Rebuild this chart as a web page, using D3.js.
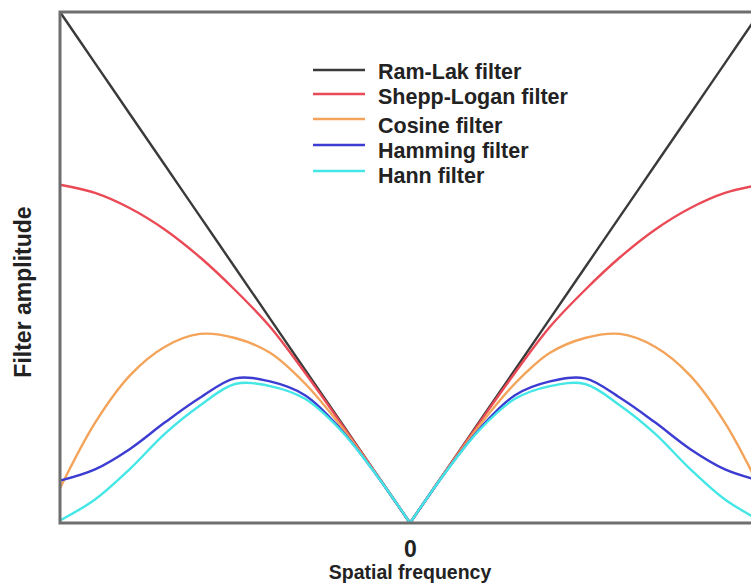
<!DOCTYPE html>
<html>
<head>
<meta charset="utf-8">
<script src="https://cdn.jsdelivr.net/npm/d3@7"></script>
<style>
  html, body { margin: 0; padding: 0; background: #fff; }
  svg { display: block; font-family: "Liberation Sans", Arial, sans-serif; }
</style>
</head>
<body>
<svg id="chart" width="751" height="586"></svg>
<script>
// Normalised spatial frequency |f| (0 = DC, 1 = Nyquist); curves are symmetric about 0.
const freq = [0, 0.1, 0.2, 0.3, 0.4, 0.5, 0.6, 0.7, 0.8, 0.9, 1.0];

// Filter amplitude at each |f|, relative to the Ram-Lak maximum.
const ramLak     = [0, 0.100, 0.200, 0.300, 0.400, 0.500, 0.600, 0.700, 0.800, 0.900, 1.000];
const sheppLogan = [0, 0.100, 0.198, 0.294, 0.384, 0.456, 0.520, 0.574, 0.616, 0.646, 0.662];
const cosine     = [0, 0.099, 0.192, 0.273, 0.333, 0.362, 0.370, 0.345, 0.289, 0.196, 0.068];
const hamming    = [0, 0.098, 0.185, 0.250, 0.277, 0.283, 0.245, 0.197, 0.145, 0.105, 0.083];
const hann       = [0, 0.098, 0.183, 0.243, 0.268, 0.272, 0.230, 0.175, 0.106, 0.046, 0.005];

const seriesNames  = ["Ram-Lak filter", "Shepp-Logan filter", "Cosine filter", "Hamming filter", "Hann filter"];
const seriesValues = [ramLak, sheppLogan, cosine, hamming, hann];
const seriesColors = ["#3a3a3a", "#ea4a55", "#f3a45a", "#3c3cd2", "#45e6e6"];

const xTickLabels = ["0"];
const xTickValues = [0];

const svg = d3.select("#chart");

// Plot frame: the right edge of the frequency range lies just past the window.
const plot = { left: 60, right: 760, top: 12, bottom: 523 };

const x = d3.scaleLinear().domain([-1, 1]).range([plot.left, plot.right]);
const y = d3.scaleLinear().domain([0, 1]).range([plot.bottom, plot.top]);

const line = d3.line()
  .x(d => x(d[0]))
  .y(d => y(d[1]))
  .curve(d3.curveCatmullRom.alpha(0.5));

const curves = svg.append("g").attr("class", "curves");

seriesValues.forEach((vals, i) => {
  const right = freq.map((f, k) => [f, vals[k]]);
  const left  = freq.map((f, k) => [-f, vals[k]]);
  // each half is drawn on its own so the cusp at f = 0 stays sharp
  [left, right].forEach(half => {
    curves.append("path")
      .datum(half)
      .attr("d", line)
      .attr("fill", "none")
      .attr("stroke", seriesColors[i])
      .attr("stroke-width", 2.4)
      .attr("stroke-linejoin", "round");
  });
});

// Frame around the plot
svg.append("rect")
  .attr("x", plot.left)
  .attr("y", plot.top)
  .attr("width", plot.right - plot.left)
  .attr("height", plot.bottom - plot.top)
  .attr("fill", "none")
  .attr("stroke", "#6e6e6e")
  .attr("stroke-width", 3);

// Bottom axis: a single tick label at zero frequency
const xAxis = d3.axisBottom(x)
  .tickValues(xTickValues)
  .tickFormat((d, i) => xTickLabels[i])
  .tickSize(0)
  .tickPadding(0);

const gx = svg.append("g")
  .attr("transform", `translate(0, ${plot.bottom})`)
  .call(xAxis);
gx.select(".domain").remove();
gx.selectAll("text")
  .attr("dy", null)
  .attr("y", 34)
  .attr("font-family", "Liberation Sans, Arial, sans-serif")
  .attr("font-size", 23)
  .attr("font-weight", "bold")
  .attr("fill", "#222");

svg.append("text")
  .attr("x", x(0))
  .attr("y", 579)
  .attr("text-anchor", "middle")
  .attr("font-size", 19.5)
  .attr("font-weight", "bold")
  .attr("fill", "#222")
  .text("Spatial frequency");

svg.append("text")
  .attr("transform", `translate(31, ${292}) rotate(-90)`)
  .attr("text-anchor", "middle")
  .attr("font-size", 23)
  .attr("font-weight", "bold")
  .attr("fill", "#222")
  .text("Filter amplitude");

// Legend
const legendLineY = [70, 94, 119, 145, 171];
const legendTextY = [79, 104, 133, 158, 183];
const legend = svg.append("g").attr("class", "legend");
seriesNames.forEach((name, i) => {
  legend.append("line")
    .attr("x1", 313).attr("x2", 365)
    .attr("y1", legendLineY[i]).attr("y2", legendLineY[i])
    .attr("stroke", seriesColors[i])
    .attr("stroke-width", 2.6);
  legend.append("text")
    .attr("x", 378)
    .attr("y", legendTextY[i])
    .attr("font-size", 21.5)
    .attr("font-weight", "bold")
    .attr("fill", "#222")
    .text(name);
});
</script>
</body>
</html>
